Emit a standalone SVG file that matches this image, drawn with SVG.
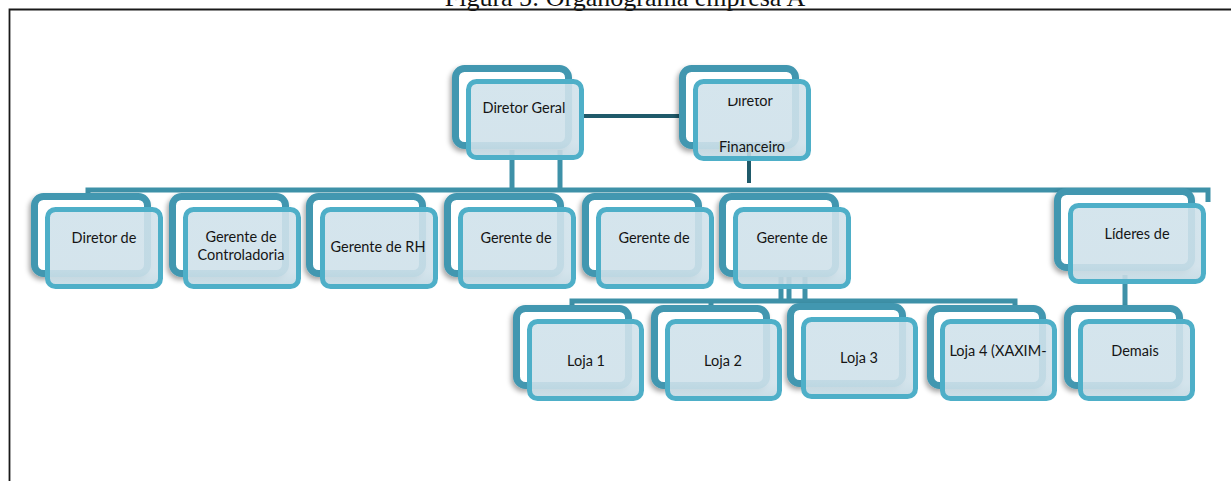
<svg xmlns="http://www.w3.org/2000/svg" width="1231" height="481" viewBox="0 0 1231 481">
<style>
.back{fill:#ffffff;stroke:#4297b0;stroke-width:7;filter:url(#sh)}
.front{fill:url(#fg);fill-opacity:0.9;stroke:#4eafc8;stroke-width:5}
.lbl{font-family:Lato,"Liberation Sans",sans-serif;font-size:14.5px;fill:#151515;text-anchor:middle}
.con{fill:none;stroke:#3e91a8;stroke-width:5}
.dark{fill:none;stroke:#1f5a6a;stroke-width:4}
.frame{stroke:#1a1a1a;stroke-width:1.8;fill:none}
</style>
<defs>
<filter id="sh" x="-20%" y="-20%" width="140%" height="150%">
<feDropShadow dx="-2" dy="3" stdDeviation="2.5" flood-color="#000" flood-opacity="0.35"/>
</filter>
<filter id="blur" x="-50%" y="-50%" width="200%" height="200%">
<feGaussianBlur stdDeviation="2"/>
</filter>
<linearGradient id="fg" x1="0" y1="0" x2="0" y2="1">
<stop offset="0" stop-color="#d0e2eb"/>
<stop offset="0.8" stop-color="#cfe1ea"/>
<stop offset="1" stop-color="#c2d9e3"/>
</linearGradient>
<clipPath id="dfclip"><rect x="690" y="98" width="130" height="70"/></clipPath>
</defs>
<rect width="1231" height="481" fill="#ffffff"/>
<g id="title">
<text x="625" y="6" font-family="'Liberation Serif',serif" font-size="26" fill="#111" text-anchor="middle">Figura 5: Organograma empresa A</text>
<path class="frame" d="M9.5,481 V9.5 H1231"/>
</g>
<g id="connectors">
<line x1="585" y1="133" x2="682" y2="133" stroke="#666" stroke-width="5" opacity="0.55" filter="url(#blur)"/>
<line class="dark" x1="580" y1="116" x2="690" y2="116"/>
<line class="con" x1="512" y1="150" x2="512" y2="190"/>
<line class="con" x1="560" y1="150" x2="560" y2="190"/>
<line class="dark" x1="749" y1="150" x2="749" y2="183" stroke-width="5"/>
<path class="con" d="M88,197 V190 H1208 V202"/>
<line class="con" x1="781" y1="277" x2="781" y2="301" stroke-width="4"/>
<line class="con" x1="789" y1="277" x2="789" y2="301" stroke-width="4"/>
<line class="con" x1="805" y1="277" x2="805" y2="301" stroke-width="4"/>
<path class="con" d="M572,307 V301 H1015 V307"/>
<line class="con" x1="711" y1="301" x2="711" y2="307"/>
<line class="con" x1="1125" y1="275" x2="1125" y2="307"/>
</g>
<g id="n-diretor-geral">
<rect class="back" x="455.5" y="68.5" width="113" height="77" rx="9"/>
<rect class="front" x="468.5" y="81.5" width="113" height="76" rx="8"/>
<text class="lbl" x="524" y="113">Diretor Geral</text>
</g>
<g id="n-diretor-financeiro">
<rect class="back" x="682.5" y="68.5" width="113" height="77" rx="9"/>
<rect class="front" x="695.5" y="81.5" width="113" height="77" rx="8"/>
<text class="lbl" x="750" y="106" clip-path="url(#dfclip)">Diretor</text>
<text class="lbl" x="752" y="152">Financeiro</text>
</g>
<g id="n-diretor-de">
<rect class="back" x="34.5" y="196.5" width="113" height="77" rx="9"/>
<rect class="front" x="47.5" y="209.5" width="113" height="77" rx="8"/>
<text class="lbl" x="104" y="243">Diretor de</text>
</g>
<g id="n-controladoria">
<rect class="back" x="172.5" y="196.5" width="113" height="77" rx="9"/>
<rect class="front" x="185.5" y="209.5" width="113" height="77" rx="8"/>
<text class="lbl" x="241" y="242">Gerente de</text>
<text class="lbl" x="241" y="260">Controladoria</text>
</g>
<g id="n-rh">
<rect class="back" x="309.5" y="196.5" width="113" height="77" rx="9"/>
<rect class="front" x="322.5" y="209.5" width="113" height="77" rx="8"/>
<text class="lbl" x="378" y="252">Gerente de RH</text>
</g>
<g id="n-gerente-4">
<rect class="back" x="447.5" y="196.5" width="113" height="77" rx="9"/>
<rect class="front" x="460.5" y="209.5" width="113" height="77" rx="8"/>
<text class="lbl" x="516" y="243">Gerente de</text>
</g>
<g id="n-gerente-5">
<rect class="back" x="585.5" y="196.5" width="113" height="77" rx="9"/>
<rect class="front" x="598.5" y="209.5" width="113" height="77" rx="8"/>
<text class="lbl" x="654" y="243">Gerente de</text>
</g>
<g id="n-gerente-6">
<rect class="back" x="722.5" y="196.5" width="113" height="77" rx="9"/>
<rect class="front" x="735.5" y="209.5" width="113" height="77" rx="8"/>
<text class="lbl" x="792" y="243">Gerente de</text>
</g>
<g id="n-lideres">
<rect class="back" x="1057.5" y="191.5" width="134" height="76" rx="9"/>
<rect class="front" x="1070.5" y="205.5" width="133" height="76" rx="8"/>
<text class="lbl" x="1137" y="239">Líderes de</text>
</g>
<g id="n-loja1">
<rect class="back" x="516.5" y="308.5" width="112" height="77" rx="9"/>
<rect class="front" x="529.5" y="321.5" width="112" height="77" rx="8"/>
<text class="lbl" x="586" y="366">Loja 1</text>
</g>
<g id="n-loja2">
<rect class="back" x="654.5" y="308.5" width="112" height="77" rx="9"/>
<rect class="front" x="667.5" y="321.5" width="112" height="77" rx="8"/>
<text class="lbl" x="723" y="366">Loja 2</text>
</g>
<g id="n-loja3">
<rect class="back" x="790.5" y="306.5" width="112" height="77" rx="9"/>
<rect class="front" x="803.5" y="319.5" width="112" height="77" rx="8"/>
<text class="lbl" x="859" y="363">Loja 3</text>
</g>
<g id="n-loja4">
<rect class="back" x="930.5" y="308.5" width="112" height="77" rx="9"/>
<rect class="front" x="942.5" y="321.5" width="112" height="77" rx="8"/>
<text class="lbl" x="998" y="356">Loja 4 (XAXIM-</text>
</g>
<g id="n-demais">
<rect class="back" x="1067.5" y="308.5" width="112" height="77" rx="9"/>
<rect class="front" x="1080.5" y="321.5" width="112" height="77" rx="8"/>
<text class="lbl" x="1135" y="356">Demais</text>
</g>
<g id="artifacts">
<line x1="783" y1="188" x2="783" y2="220" stroke="#4a5a60" stroke-width="4" opacity="0.6" filter="url(#blur)"/>
</g>
</svg>
